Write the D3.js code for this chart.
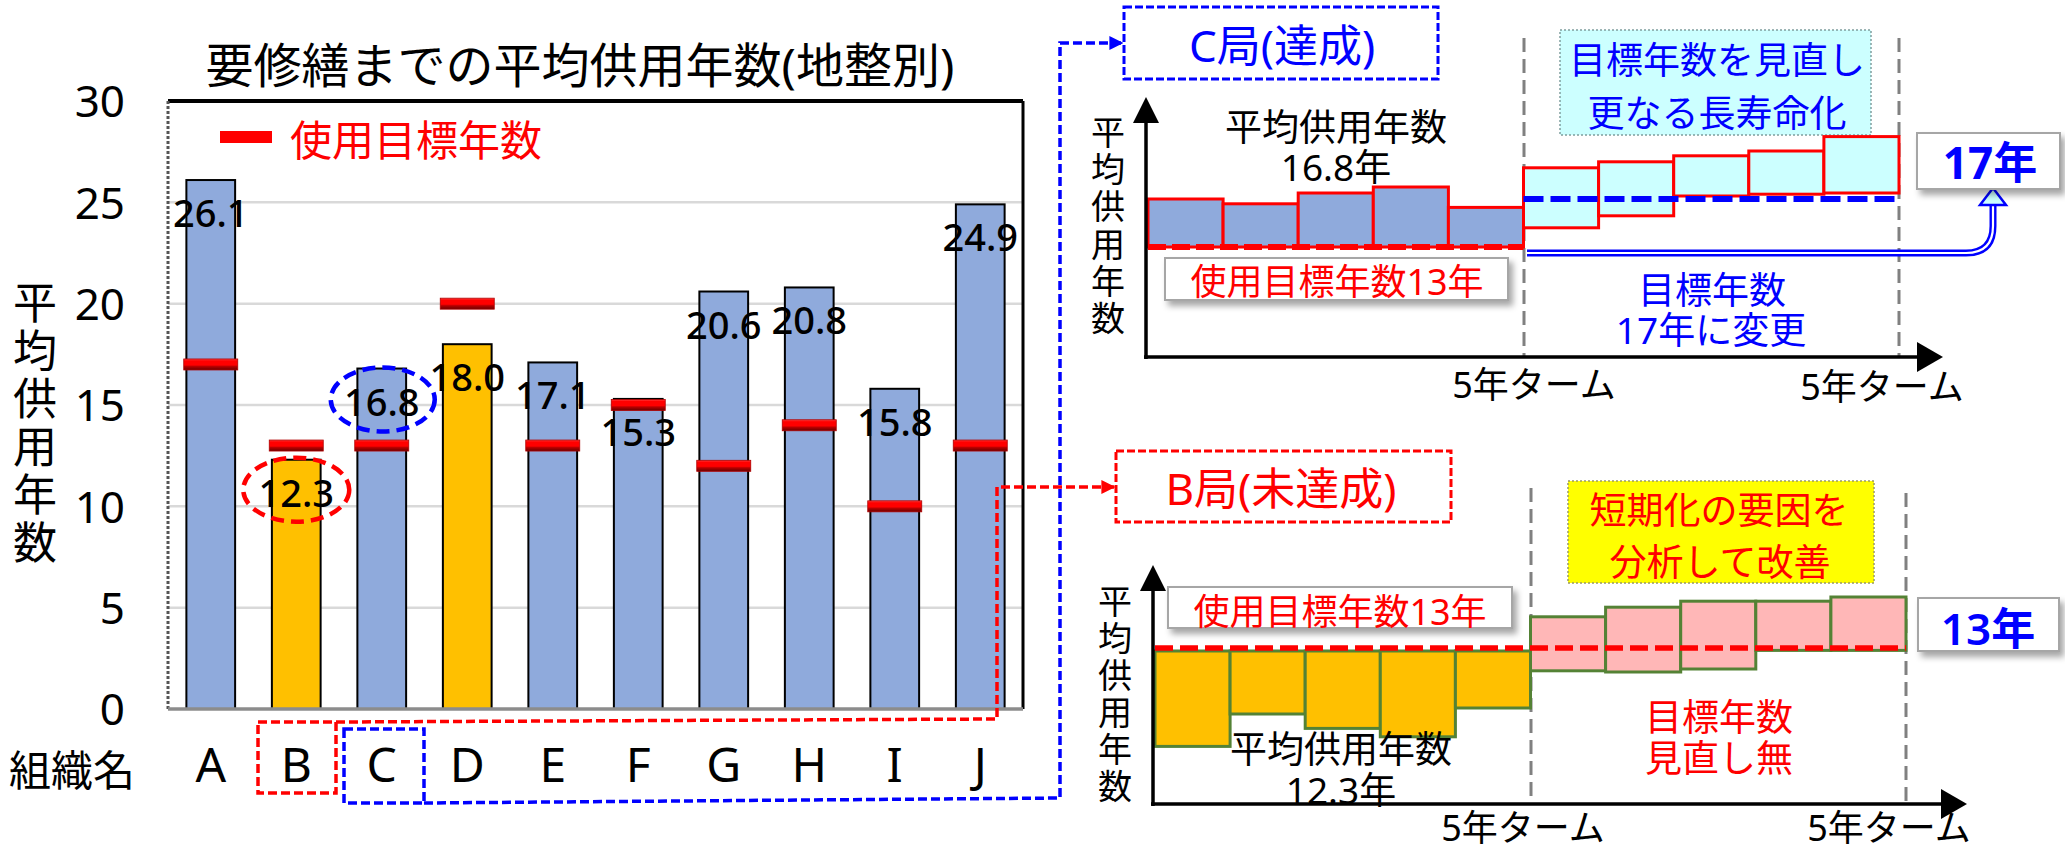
<!DOCTYPE html>
<html><head><meta charset="utf-8">
<script src="https://cdn.jsdelivr.net/npm/d3@7"></script>
<style>
html,body{margin:0;padding:0;background:#fff;}
svg text{font-family:"Noto Sans","Noto Sans CJK JP",sans-serif;}
</style></head>
<body><svg id="c" width="2065" height="850"></svg>
<script>
// ---------- data ----------
const categories = ["A","B","C","D","E","F","G","H","I","J"];
const avgYears   = [26.1,12.3,16.8,18.0,17.1,15.3,20.6,20.8,15.8,24.9];
const targetYears= [17,13,13,20,13,15,12,14,10,13];
const yTicks     = [0,5,10,15,20,25,30];
const chartTitle = "要修繕までの平均供用年数(地整別)";
const yTitle     = "平均供用年数";
const xTitle     = "組織名";
const legendLabel= "使用目標年数";

// C局 (achieved) illustration, values in years
const cPrevTerm  = [17.0,16.6,17.5,18.0,16.3];
const cNextLow   = [14.6,15.6,17.25,17.4,17.5];
const cNextHigh  = [19.6,20.1,20.6,21.0,22.2];
const cOldTarget = 13, cNewTarget = 17, cAverage = 16.8;
// B局 (not achieved) illustration
const bPrevTerm  = [4.8,7.5,6.3,5.6,8.0];
const bNextLow   = [11.1,11.0,11.25,12.8,12.8];
const bNextHigh  = [15.6,16.4,16.9,16.9,17.25];
const bTarget    = 13, bAverage = 12.3;
const termLabel  = "5年ターム";

// ---------- drawing ----------
const svg = d3.select("#c");
svg.append("rect").attr("width",2065).attr("height",850).attr("fill","#fff");
const defs = svg.append("defs");
const g1 = defs.append("linearGradient").attr("id","markGrad").attr("x1",0).attr("y1",0).attr("x2",0).attr("y2",1);
[[0,"#ff4040"],[0.18,"#ff0000"],[0.55,"#ff0000"],[0.68,"#b80000"],[1,"#6a0000"]]
  .forEach(([o,c])=>g1.append("stop").attr("offset",o).attr("stop-color",c));
const f = defs.append("filter").attr("id","shadow").attr("x","-10%").attr("y","-30%").attr("width","130%").attr("height","180%");
f.append("feDropShadow").attr("dx",4).attr("dy",5).attr("stdDeviation",3).attr("flood-color","#000").attr("flood-opacity",0.35);
const mk = (id,color)=>{
  defs.append("marker").attr("id",id).attr("viewBox","0 0 10 10").attr("refX",9).attr("refY",5)
    .attr("markerWidth",4).attr("markerHeight",4).attr("markerUnits","strokeWidth").attr("orient","auto")
    .append("path").attr("d","M0,0L10,5L0,10Z").attr("fill",color);
};
mk("arrBlue","#0000ff"); mk("arrRed","#ff0000");

const x = d3.scaleBand().domain(categories).range([168,1023]).paddingInner(0.43).paddingOuter(0.215);
const y = d3.scaleLinear().domain([0,30]).range([709,101]);
const data = categories.map((c,i)=>({c,v:avgYears[i],t:targetYears[i]}));

// title
svg.append("text").attr("x",580).attr("y",64).attr("text-anchor","middle").attr("dominant-baseline","central")
  .attr("font-size",48).text(chartTitle);

// gridlines
svg.append("g").selectAll("line").data(yTicks.filter(t=>t>0&&t<30)).join("line")
  .attr("x1",168).attr("x2",1023).attr("y1",d=>y(d)).attr("y2",d=>y(d))
  .attr("stroke","#d9d9d9").attr("stroke-width",2.5);

// frame
svg.append("line").attr("x1",168).attr("x2",1023).attr("y1",y(30)).attr("y2",y(30)).attr("stroke","#000").attr("stroke-width",4);
svg.append("line").attr("x1",1023).attr("x2",1023).attr("y1",y(30)).attr("y2",y(0)).attr("stroke","#000").attr("stroke-width",3);
svg.append("line").attr("x1",168).attr("x2",168).attr("y1",y(30)).attr("y2",y(0)).attr("stroke","#555").attr("stroke-width",3).attr("stroke-dasharray","3 2");

// bars
svg.append("g").selectAll("rect").data(data).join("rect")
  .attr("x",d=>x(d.c)).attr("y",d=>y(d.v)).attr("width",x.bandwidth()).attr("height",d=>y(0)-y(d.v))
  .attr("fill",d=>d.v<d.t?"#ffc000":"#8faadc").attr("stroke","#000").attr("stroke-width",2);
svg.append("line").attr("x1",168).attr("x2",1023).attr("y1",y(0)).attr("y2",y(0)).attr("stroke","#8c8c8c").attr("stroke-width",3.5);

// target marks
svg.append("g").selectAll("rect").data(data).join("rect")
  .attr("x",d=>x(d.c)+x.bandwidth()/2-27).attr("y",d=>y(d.t)-5.5).attr("width",54).attr("height",11)
  .attr("fill","url(#markGrad)").attr("stroke","#b00000").attr("stroke-width",0.8);

// value labels
svg.append("g").selectAll("text").data(data).join("text")
  .attr("x",d=>x(d.c)+x.bandwidth()/2).attr("y",d=>y(d.v)+47).attr("text-anchor","middle")
  .attr("font-size",38).attr("font-weight",500).attr("fill","#000").text(d=>d.v.toFixed(1));

// y axis
const ya = svg.append("g").attr("transform","translate(168,0)")
  .call(d3.axisLeft(y).tickValues(yTicks).tickSize(0).tickPadding(43));
ya.select(".domain").remove();
ya.selectAll("text").attr("font-size",44).attr("fill","#000").attr("dy","0.36em");
// x axis
const xa = svg.append("g").attr("transform",`translate(0,${y(0)})`)
  .call(d3.axisBottom(x).tickSize(0));
xa.select(".domain").remove();
xa.selectAll("text").attr("font-size",48).attr("fill","#000").attr("y",73).attr("dy",0);

// axis titles
svg.append("g").selectAll("text").data(Array.from(yTitle)).join("text")
  .attr("x",35).attr("y",(d,i)=>302+i*48).attr("text-anchor","middle").attr("dominant-baseline","central")
  .attr("font-size",44).text(d=>d);
svg.append("text").attr("x",72).attr("y",769).attr("text-anchor","middle").attr("dominant-baseline","central")
  .attr("font-size",42).text(xTitle);

// legend
svg.append("rect").attr("x",220).attr("y",131).attr("width",52).attr("height",12).attr("fill","#ff0000");
svg.append("text").attr("x",290).attr("y",139).attr("dominant-baseline","central").attr("font-size",42)
  .attr("fill","#ff0000").text(legendLabel);

// highlight ellipses
const bx = c=>x(c)+x.bandwidth()/2;
const dB = data[1], dC = data[2];
svg.append("ellipse").attr("cx",bx("C")+1).attr("cy",y(dC.v)+31).attr("rx",52).attr("ry",32)
  .attr("fill","none").attr("stroke","#0000ff").attr("stroke-width",4.5).attr("stroke-dasharray","13 7");
svg.append("ellipse").attr("cx",bx("B")).attr("cy",y(dB.v)+30).attr("rx",53).attr("ry",32)
  .attr("fill","none").attr("stroke","#ff0000").attr("stroke-width",4.5).attr("stroke-dasharray","13 7");

// label boxes and connectors
svg.append("rect").attr("x",258).attr("y",722).attr("width",78).attr("height",71)
  .attr("fill","none").attr("stroke","#ff0000").attr("stroke-width",3.5).attr("stroke-dasharray","9 4");
svg.append("rect").attr("x",344).attr("y",729).attr("width",80).attr("height",74)
  .attr("fill","none").attr("stroke","#0000ff").attr("stroke-width",3.5).attr("stroke-dasharray","9 4");
svg.append("path").attr("d","M336,722L997,719L997,487L1114,487").attr("fill","none")
  .attr("stroke","#ff0000").attr("stroke-width",3.5).attr("stroke-dasharray","9 4").attr("marker-end","url(#arrRed)");
svg.append("path").attr("d","M424,803L1060,798L1060,43L1122,43").attr("fill","none")
  .attr("stroke","#0000ff").attr("stroke-width",3.5).attr("stroke-dasharray","9 4").attr("marker-end","url(#arrBlue)");

// helpers
const txt = (s,xx,yy,size,color,opts={})=>{
  const t = svg.append("text").attr("x",xx).attr("y",yy).attr("text-anchor",opts.anchor||"middle")
    .attr("dominant-baseline","central").attr("font-size",size).attr("fill",color).text(s);
  if(opts.weight) t.attr("font-weight",opts.weight);
  return t;
};
const vtxt = (s,xx,y0,step,size)=>{
  Array.from(s).forEach((ch,i)=>txt(ch,xx,y0+i*step,size,"#000"));
};
const box = (x0,y0,w,h,fill,stroke,sw,dash,shadow)=>{
  const r = svg.append("rect").attr("x",x0).attr("y",y0).attr("width",w).attr("height",h)
    .attr("fill",fill).attr("stroke",stroke).attr("stroke-width",sw);
  if(dash) r.attr("stroke-dasharray",dash);
  if(shadow) r.attr("filter","url(#shadow)");
  return r;
};
const vdash = (xx,y0,y1)=>svg.append("line").attr("x1",xx).attr("x2",xx).attr("y1",y0).attr("y2",y1)
  .attr("stroke","#808080").attr("stroke-width",3).attr("stroke-dasharray","14 7");
const axisArrows = (ax,ay,topY,rightX)=>{
  svg.append("line").attr("x1",ax).attr("x2",ax).attr("y1",ay+2).attr("y2",topY+24).attr("stroke","#000").attr("stroke-width",3.5);
  svg.append("path").attr("d",`M${ax-13},${topY+26}L${ax+13},${topY+26}L${ax},${topY}Z`).attr("fill","#000");
  svg.append("line").attr("x1",ax-2).attr("x2",rightX-24).attr("y1",ay).attr("y2",ay).attr("stroke","#000").attr("stroke-width",3.5);
  svg.append("path").attr("d",`M${rightX-26},${ay-15}L${rightX-26},${ay+15}L${rightX},${ay}Z`).attr("fill","#000");
};

// ===== C panel =====
const cx = d3.scaleLinear().domain([0,10]).range([1148,1899]);
const cy = d3.scaleLinear().domain([13,17]).range([247,199]);
box(1124,7,314,72,"#fff","#0000ff",3,"8 3");
txt("C局(達成)",1282,45,44,"#0000ff");
box(1560,30,311,105,"#ccffff","#7f9f9f",1.5,"2 2");
txt("目標年数を見直し",1717,59,37,"#0000ff");
txt("更なる長寿命化",1717,112,37,"#0000ff");
vdash(1524,38,357); vdash(1899,38,357);
svg.append("g").selectAll("rect").data(cPrevTerm).join("rect")
  .attr("x",(d,i)=>cx(i)).attr("width",(d,i)=>cx(i+1)-cx(i)).attr("y",d=>cy(d)).attr("height",d=>cy(cOldTarget)-cy(d))
  .attr("fill","#8faadc").attr("stroke","#ff0000").attr("stroke-width",3);
svg.append("g").selectAll("rect").data(cNextHigh).join("rect")
  .attr("x",(d,i)=>cx(i+5)).attr("width",(d,i)=>cx(i+6)-cx(i+5)).attr("y",d=>cy(d)).attr("height",(d,i)=>cy(cNextLow[i])-cy(d))
  .attr("fill","#ccffff").attr("stroke","#ff0000").attr("stroke-width",3);
svg.append("line").attr("x1",cx(0)).attr("x2",cx(5)).attr("y1",cy(cOldTarget)).attr("y2",cy(cOldTarget))
  .attr("stroke","#ff0000").attr("stroke-width",6).attr("stroke-dasharray","18 6");
svg.append("line").attr("x1",cx(5)).attr("x2",cx(10)).attr("y1",cy(cNewTarget)).attr("y2",cy(cNewTarget))
  .attr("stroke","#0000ff").attr("stroke-width",6).attr("stroke-dasharray","20 7");
axisArrows(1146,357,97,1943);
vtxt(yTitle,1108,132,37.2,34);
txt("平均供用年数",1336,126,37,"#000");
txt(cAverage.toFixed(1)+"年",1336,166,37,"#000");
box(1165,258,343,42,"#fff","#a6a6a6",2,null,true);
txt(legendLabel+cOldTarget+"年",1337,281,36,"#ff0000");
// double arrow
svg.append("path").attr("d","M1527,253L1966,253Q1993,253 1993,226L1993,204").attr("fill","none")
  .attr("stroke","#0000ff").attr("stroke-width",7);
svg.append("path").attr("d","M1527,253L1966,253Q1993,253 1993,226L1993,203").attr("fill","none")
  .attr("stroke","#fff").attr("stroke-width",2.2);
svg.append("path").attr("d","M1980,205L2006,205L1993,188Z").attr("fill","#ccffff").attr("stroke","#0000ff").attr("stroke-width",2.5);
box(1917,133,143,56,"#fff","#a6a6a6",2,null,true);
txt(cNewTarget+"年",1990,162,44,"#0000ff",{weight:"bold"});
txt("目標年数",1712,289,37,"#0000ff");
txt(cNewTarget+"年に変更",1711,329,37,"#0000ff");
txt(termLabel,1534,384,36,"#000");
txt(termLabel,1882,386,36,"#000");

// ===== B panel =====
const px = d3.scaleLinear().domain([0,10]).range([1155,1906]);
const py = d3.scaleLinear().domain([13,17]).range([648,600]);
box(1116,451,335,71,"#fff","#ff0000",3,"8 3");
txt("B局(未達成)",1281,488,44,"#ff0000");
box(1568,481,306,102,"#ffff00","#999966",1.5,"2 2");
txt("短期化の要因を",1719,509,37,"#ff0000");
txt("分析して改善",1720,561,37,"#ff0000");
vdash(1531,488,805); vdash(1906,493,805);
svg.append("g").selectAll("rect").data(bPrevTerm).join("rect")
  .attr("x",(d,i)=>px(i)).attr("width",(d,i)=>px(i+1)-px(i)).attr("y",py(bTarget)+3).attr("height",d=>py(d)-py(bTarget)-3)
  .attr("fill","#ffc000").attr("stroke","#548235").attr("stroke-width",3);
svg.append("g").selectAll("rect").data(bNextHigh).join("rect")
  .attr("x",(d,i)=>px(i+5)).attr("width",(d,i)=>px(i+6)-px(i+5)).attr("y",d=>py(d)).attr("height",(d,i)=>py(bNextLow[i])-py(d))
  .attr("fill","#ffb7b7").attr("stroke","#548235").attr("stroke-width",3);
svg.append("line").attr("x1",px(0)).attr("x2",px(10)).attr("y1",py(bTarget)).attr("y2",py(bTarget))
  .attr("stroke","#ff0000").attr("stroke-width",5.5).attr("stroke-dasharray","18 7");
axisArrows(1153,804,565,1967);
vtxt(yTitle,1115,601,37,34);
box(1168,587,344,41,"#fff","#a6a6a6",2,null,true);
txt(legendLabel+bTarget+"年",1340,611,36,"#ff0000");
txt("平均供用年数",1341,748,37,"#000");
txt(bAverage.toFixed(1)+"年",1341,789,37,"#000");
box(1918,598,141,53,"#fff","#a6a6a6",2,null,true);
txt(bTarget+"年",1988,628,44,"#0000ff",{weight:600});
txt("目標年数",1719,716,37,"#ff0000");
txt("見直し無",1719,757,37,"#ff0000");
txt(termLabel,1523,827,36,"#000");
txt(termLabel,1889,827,36,"#000");
</script></body></html>
